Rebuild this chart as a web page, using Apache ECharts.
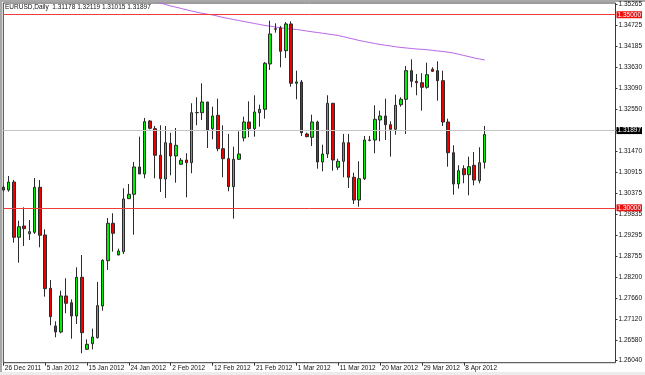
<!DOCTYPE html>
<html>
<head>
<meta charset="utf-8">
<style>
  html, body { margin: 0; padding: 0; background: #fff; }
  #chart { width: 645px; height: 375px; }
</style>
<script src="https://cdn.jsdelivr.net/npm/echarts@6/dist/echarts.min.js"></script>
</head>
<body>
<div id="chart"></div>
<script>
// daily bars (Sunday bars included, as the broker feed has them)
const dates = [
  '26 Dec 2011', '27 Dec 2011', '28 Dec 2011', '29 Dec 2011', '30 Dec 2011',
  '2 Jan 2012', '3 Jan 2012', '4 Jan 2012', '5 Jan 2012', '6 Jan 2012', '8 Jan 2012',
  '9 Jan 2012', '10 Jan 2012', '11 Jan 2012', '12 Jan 2012', '13 Jan 2012', '15 Jan 2012',
  '16 Jan 2012', '17 Jan 2012', '18 Jan 2012', '19 Jan 2012', '20 Jan 2012', '22 Jan 2012',
  '23 Jan 2012', '24 Jan 2012', '25 Jan 2012', '26 Jan 2012', '27 Jan 2012', '29 Jan 2012',
  '30 Jan 2012', '31 Jan 2012', '1 Feb 2012', '2 Feb 2012', '3 Feb 2012', '5 Feb 2012',
  '6 Feb 2012', '7 Feb 2012', '8 Feb 2012', '9 Feb 2012', '10 Feb 2012', '12 Feb 2012',
  '13 Feb 2012', '14 Feb 2012', '15 Feb 2012', '16 Feb 2012', '17 Feb 2012', '19 Feb 2012',
  '20 Feb 2012', '21 Feb 2012', '22 Feb 2012', '23 Feb 2012', '24 Feb 2012', '26 Feb 2012',
  '27 Feb 2012', '28 Feb 2012', '29 Feb 2012', '1 Mar 2012', '2 Mar 2012', '4 Mar 2012',
  '5 Mar 2012', '6 Mar 2012', '7 Mar 2012', '8 Mar 2012', '9 Mar 2012', '11 Mar 2012',
  '12 Mar 2012', '13 Mar 2012', '14 Mar 2012', '15 Mar 2012', '16 Mar 2012', '18 Mar 2012',
  '19 Mar 2012', '20 Mar 2012', '21 Mar 2012', '22 Mar 2012', '23 Mar 2012', '25 Mar 2012',
  '26 Mar 2012', '27 Mar 2012', '28 Mar 2012', '29 Mar 2012', '30 Mar 2012', '1 Apr 2012',
  '2 Apr 2012', '3 Apr 2012', '4 Apr 2012', '5 Apr 2012', '6 Apr 2012', '8 Apr 2012',
  '9 Apr 2012', '10 Apr 2012', '11 Apr 2012', '12 Apr 2012'
]
const opens = [
  1.30531, 1.30461, 1.30668, 1.29236, 1.29529, 1.29329, 1.29366, 1.30531, 1.29296, 1.27915,
  1.26939, 1.26783, 1.27716, 1.27542, 1.27198, 1.28200, 1.26335, 1.26480, 1.26636, 1.27457,
  1.28630, 1.29599, 1.28778, 1.28863, 1.30236, 1.30350, 1.31057, 1.30876, 1.32248, 1.32049,
  1.31360, 1.30746, 1.31671, 1.31342, 1.31127, 1.31238, 1.31168, 1.32463, 1.32463, 1.32740,
  1.32049, 1.32396, 1.31531, 1.31272, 1.30547, 1.31256, 1.31808, 1.32222, 1.32049, 1.32463,
  1.32551, 1.33725, 1.34639, 1.34657, 1.34069, 1.34761, 1.33225, 1.33258, 1.31912, 1.31826,
  1.32222, 1.31186, 1.31394, 1.32707, 1.31049, 1.31204, 1.31686, 1.30790, 1.30202, 1.30754,
  1.31756, 1.31756, 1.32274, 1.32378, 1.32152, 1.32033, 1.32670, 1.32810, 1.33551, 1.33276,
  1.33240, 1.33121, 1.33587, 1.33551, 1.33292, 1.32222, 1.31427, 1.30617, 1.31013, 1.30857,
  1.31101, 1.30702, 1.31178
]
const highs = [
  1.30583, 1.30824, 1.30720, 1.29666, 1.30013, 1.29684, 1.30772, 1.30720, 1.29443, 1.28130,
  1.27060, 1.27853, 1.28174, 1.27630, 1.28459, 1.28778, 1.26594, 1.26869, 1.28078, 1.28666,
  1.29736, 1.29858, 1.28941, 1.30505, 1.30617, 1.31186, 1.31842, 1.32326, 1.32274, 1.32119,
  1.32137, 1.32119, 1.31945, 1.32067, 1.31290, 1.31412, 1.32707, 1.32862, 1.33225, 1.32740,
  1.32619, 1.32826, 1.32137, 1.31912, 1.31583, 1.31981, 1.32360, 1.32758, 1.32914, 1.32670,
  1.33776, 1.34846, 1.34779, 1.34709, 1.34812, 1.34830, 1.33551, 1.33310, 1.31945, 1.32411,
  1.32256, 1.31634, 1.32914, 1.32707, 1.31272, 1.31912, 1.31912, 1.30909, 1.31204, 1.31860,
  1.31860, 1.32655, 1.32515, 1.32826, 1.32240, 1.32929, 1.32862, 1.33673, 1.33846, 1.33466,
  1.33484, 1.33758, 1.33639, 1.33794, 1.33551, 1.32308, 1.31619, 1.31101, 1.31101, 1.31324,
  1.31445, 1.31567, 1.32119
]
const lows = [
  1.30427, 1.30417, 1.29096, 1.28578, 1.29011, 1.29166, 1.29322, 1.28977, 1.27698, 1.26957,
  1.26646, 1.26750, 1.27268, 1.26610, 1.26990, 1.26232, 1.26317, 1.26335, 1.26615, 1.27335,
  1.28389, 1.28863, 1.28770, 1.28804, 1.30236, 1.29303, 1.30876, 1.30764, 1.32033, 1.30764,
  1.30409, 1.30254, 1.30842, 1.30650, 1.31116, 1.30272, 1.30894, 1.32137, 1.32274, 1.31549,
  1.31774, 1.31463, 1.30790, 1.30427, 1.29718, 1.31238, 1.31722, 1.31826, 1.31842, 1.32101,
  1.32308, 1.33569, 1.34535, 1.33639, 1.33880, 1.33137, 1.32810, 1.31860, 1.31826, 1.31601,
  1.31013, 1.30945, 1.31290, 1.30961, 1.30979, 1.30790, 1.30513, 1.30099, 1.30029, 1.30720,
  1.31722, 1.31412, 1.31722, 1.31756, 1.31324, 1.31893, 1.32619, 1.31912, 1.33121, 1.32914,
  1.32515, 1.33085, 1.33517, 1.32774, 1.32119, 1.31065, 1.30339, 1.30495, 1.30635, 1.30324,
  1.30583, 1.30635, 1.31015
]
const closes = [
  1.30461, 1.30668, 1.29236, 1.29511, 1.29459, 1.29381, 1.30531, 1.29288, 1.27905, 1.27180,
  1.26783, 1.27716, 1.27527, 1.27198, 1.28200, 1.26765, 1.26465, 1.26654, 1.27465, 1.28640,
  1.29599, 1.29340, 1.28881, 1.30228, 1.30350, 1.31057, 1.30876, 1.32230, 1.32059, 1.31360,
  1.30754, 1.31686, 1.31342, 1.31619, 1.31230, 1.31168, 1.32463, 1.32468, 1.32740, 1.32015,
  1.32378, 1.31531, 1.31272, 1.30547, 1.31256, 1.31394, 1.32222, 1.32049, 1.32481, 1.32551,
  1.33743, 1.34502, 1.34623, 1.34053, 1.34761, 1.33225, 1.33258, 1.31945, 1.31842, 1.32222,
  1.31186, 1.31394, 1.32707, 1.31238, 1.31204, 1.31686, 1.30790, 1.30202, 1.30754, 1.31756,
  1.31748, 1.32292, 1.32378, 1.32152, 1.32033, 1.32655, 1.32810, 1.33551, 1.33276, 1.33240,
  1.33121, 1.33447, 1.33535, 1.33292, 1.32222, 1.31427, 1.30617, 1.30961, 1.30857, 1.31065,
  1.30720, 1.31168, 1.31897
]
// moving average, runs off the top of the window before late Jan
const movingAvg = [
  null, null, null, null, null, null, null, null, null, null,
  null, null, null, null, null, null, null, null, null, null,
  null, null, null, null, null, null, 1.35460, 1.35421, 1.35382, 1.35343,
  1.35304, 1.35266, 1.35227, 1.35196, 1.35162, 1.35128, 1.35097, 1.35066, 1.35038, 1.35014,
  1.34994, 1.34963, 1.34929, 1.34903, 1.34877, 1.34851, 1.34825, 1.34799, 1.34773, 1.34748,
  1.34722, 1.34704, 1.34683, 1.34665, 1.34644, 1.34631, 1.34618, 1.34600, 1.34579, 1.34558,
  1.34540, 1.34522, 1.34502, 1.34483, 1.34463, 1.34432, 1.34398, 1.34367, 1.34333, 1.34307,
  1.34281, 1.34255, 1.34230, 1.34209, 1.34191, 1.34170, 1.34152, 1.34139, 1.34126, 1.34113,
  1.34105, 1.34092, 1.34079, 1.34061, 1.34048, 1.34030, 1.34009, 1.33978, 1.33945, 1.33914,
  1.33880, 1.33854, 1.33828
]
const priceTicks = [
  1.35265, 1.34725, 1.34185, 1.33630, 1.33090, 1.32550, 1.32010, 1.31470, 1.30915,
  1.30375, 1.29835, 1.29295, 1.28755, 1.28200, 1.27660, 1.27120, 1.26580, 1.26040
]
const levels = [1.35, 1.30]

const symbolName = 'EURUSD'
const timeframe = 'Daily'
const last = dates.length - 1
const lastClose = closes[last]

const candles = dates.map((d, i) => [opens[i], closes[i], lows[i], highs[i]])

const font = 'Tahoma, "Liberation Sans", Arial, sans-serif'
const small = 6.5

const chart = echarts.init(document.getElementById('chart'), null, { renderer: 'canvas' })

const option = {
  animation: false,
  backgroundColor: '#fff',
  title: {
    text: symbolName + ',' + timeframe + '  ' +
      [opens[last], highs[last], lows[last], closes[last]].map(v => v.toFixed(5)).join(' '),
    left: 5,
    top: 4,
    padding: 0,
    textStyle: { fontFamily: font, fontSize: small, fontWeight: 'normal', color: '#111' }
  },
  graphic: [
    { type: 'rect', shape: { x: 0, y: 0, width: 645, height: 2 }, style: { fill: '#a8a8a8' }, silent: true },
    { type: 'rect', shape: { x: 0, y: 0, width: 2, height: 375 }, style: { fill: '#a8a8a8' }, silent: true },
    { type: 'rect', shape: { x: 0, y: 372, width: 645, height: 3 }, style: { fill: '#ececec' }, silent: true }
  ],
  grid: {
    left: 3.3,
    right: 28,
    top: 3,
    bottom: 12.3,
    show: true,
    borderColor: '#3a3a3a',
    borderWidth: 1,
    backgroundColor: '#fff'
  },
  xAxis: {
    type: 'category',
    data: dates,
    boundaryGap: false,
    min: 0,
    max: 117,
    axisLine: { show: false },
    axisTick: {
      show: true,
      length: 3,
      lineStyle: { color: '#333' },
      interval: (i) => i % 8 === 0 && i < dates.length
    },
    axisLabel: {
      interval: (i) => i % 8 === 0 && i < dates.length,
      align: 'left',
      margin: 2,
      padding: [0, 0, 0, 1.5],
      fontFamily: font,
      fontSize: small,
      color: '#111'
    },
    splitLine: { show: false }
  },
  yAxis: {
    type: 'value',
    position: 'right',
    scale: true,
    min: 1.25988,
    max: 1.35304,
    axisLine: { show: false },
    axisTick: {
      show: true,
      length: 2,
      customValues: priceTicks,
      lineStyle: { color: '#333' }
    },
    axisLabel: {
      customValues: priceTicks,
      formatter: v => v.toFixed(5),
      margin: 3,
      fontFamily: font,
      fontSize: small,
      color: '#111'
    },
    splitLine: { show: false }
  },
  series: [
    {
      name: 'MA',
      type: 'line',
      data: movingAvg,
      showSymbol: false,
      clip: true,
      lineStyle: { color: '#b866e8', width: 1 },
      z: 1
    },
    {
      name: symbolName,
      type: 'candlestick',
      data: candles,
      barWidth: 3,
      clip: true,
      itemStyle: {
        color: '#00ee00',
        color0: '#ee0000',
        borderColor: '#2b2b2b',
        borderColor0: '#2b2b2b',
        borderWidth: 1
      },
      markLine: {
        silent: true,
        symbol: 'none',
        animation: false,
        label: {
          position: 'end',
          distance: 1,
          fontFamily: font,
          fontSize: small,
          color: '#fff',
          padding: [1, 1, 0, 1],
          lineHeight: 6
        },
        data: levels.map(v => ({
          yAxis: v,
          lineStyle: { color: '#ee3b3b', width: 1, type: 'solid' },
          label: { formatter: v.toFixed(5), backgroundColor: '#ee1111' }
        })).concat([{
          yAxis: lastClose,
          lineStyle: { color: '#c4c4c4', width: 1, type: 'solid' },
          label: { formatter: lastClose.toFixed(5), backgroundColor: '#000' }
        }])
      },
      z: 2
    }
  ]
}

chart.setOption(option)
</script>
</body>
</html>
